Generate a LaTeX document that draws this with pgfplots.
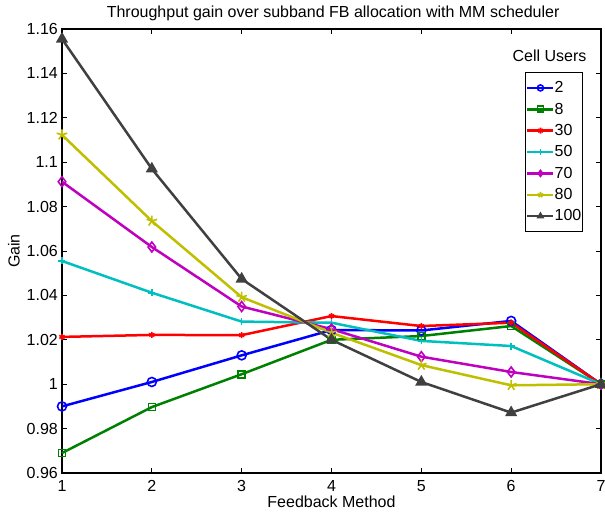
\documentclass[border=0pt]{standalone}
\usepackage{pgfplots}
\pgfplotsset{compat=1.18}
\usepackage{fontspec}
\setmainfont{Liberation Sans}
\usetikzlibrary{plotmarks}
\definecolor{mblue}{rgb}{0,0,1}
\definecolor{mgreen}{rgb}{0,0.5,0}
\definecolor{mred}{rgb}{1,0,0}
\definecolor{mcyan}{rgb}{0,0.75,0.75}
\definecolor{mmag}{rgb}{0.75,0,0.75}
\definecolor{myel}{rgb}{0.75,0.75,0}
\definecolor{mgrey}{rgb}{0.25,0.25,0.25}
\begin{document}
\begin{tikzpicture}
\useasboundingbox (-62pt,-39pt) rectangle (543pt,473pt);
\begin{axis}[
  scale only axis, width=539pt, height=444pt,
  xmin=1, xmax=7, ymin=0.96, ymax=1.16,
  xtick={1,...,7}, ytick={0.96,0.98,1,1.02,1.04,1.06,1.08,1.1,1.12,1.14,1.16},
  /pgf/number format/assume math mode=true,
  yticklabel style={/pgf/number format/fixed, /pgf/number format/precision=2, inner sep=0pt, xshift=-4pt},
  xticklabel style={inner sep=0pt, yshift=-7pt},
  tick align=inside, major tick length=5pt,
  tick style={black, line width=0.8pt},
  axis line style={black, line width=1.5pt},
  ticklabel style={font=\fontsize{16}{18}\selectfont},
  xlabel={Feedback Method},
  xlabel style={font=\fontsize{16}{18}\selectfont, at={(axis description cs:0.5,-0.0515)}, anchor=north, inner sep=0pt},
  ylabel={Gain},
  ylabel style={font=\fontsize{16}{18}\selectfont, at={(axis description cs:-0.089,0.5)}, anchor=center, inner sep=0pt},
  legend style={at={(0.9666,0.9032)}, anchor=north east, draw=black, line width=1.2pt,
    font=\fontsize{16}{18}\selectfont, row sep=4.7pt, inner xsep=1pt, inner ysep=7pt,
    nodes={inner xsep=0pt}},
  legend cell align=left,
  legend image code/.code={\draw[#1, line width=2.5pt] (0pt,0pt) -- (26pt,0pt);
    \draw[#1, line width=1.5pt, mark size=3pt] plot coordinates {(13pt,0pt)};},
  every axis plot/.append style={line width=2.5pt, mark options={solid, line width=1.6pt}},
  clip=false,
]
\addplot[mblue, mark=o, mark size=4.5pt] coordinates {(1,0.990) (2,1.001) (3,1.013) (4,1.0244) (5,1.0242) (6,1.0285) (7,1.0)};
\addlegendentry{2}
\addplot[mgreen, mark=square, mark size=3.5pt] coordinates {(1,0.969) (2,0.9897) (3,1.0045) (4,1.0200) (5,1.0217) (6,1.0262) (7,1.0)};
\addlegendentry{8}
\addplot[mred, mark=asterisk, mark size=3pt] coordinates {(1,1.0213) (2,1.0222) (3,1.0221) (4,1.0307) (5,1.0262) (6,1.0277) (7,1.0)};
\addlegendentry{30}
\addplot[mcyan, mark=+, mark size=3.5pt] coordinates {(1,1.0555) (2,1.0412) (3,1.0282) (4,1.0277) (5,1.0195) (6,1.0172) (7,1.0)};
\addlegendentry{50}
\addplot[mmag, mark=diamond, mark size=5pt] coordinates {(1,1.0912) (2,1.0618) (3,1.0350) (4,1.0248) (5,1.0124) (6,1.0055) (7,1.0)};
\addlegendentry{70}
\addplot[myel, mark=star, mark size=5.5pt] coordinates {(1,1.1123) (2,1.0735) (3,1.0392) (4,1.0232) (5,1.0086) (6,0.9995) (7,1.0)};
\addlegendentry{80}
\addplot[mgrey, mark=triangle*, mark size=5.5pt] coordinates {(1,1.1555) (2,1.0970) (3,1.0474) (4,1.0200) (5,1.0010) (6,0.9872) (7,1.0)};
\addlegendentry{100}
\node[font=\fontsize{16}{18}\selectfont, anchor=base] at (rel axis cs:0.9045,0.9257) {Cell Users};
\node[font=\fontsize{16}{18}\selectfont, anchor=base] at (rel axis cs:0.503,1.0248) {Throughput gain over subband FB allocation with MM scheduler};
\end{axis}
\end{tikzpicture}
\end{document}
